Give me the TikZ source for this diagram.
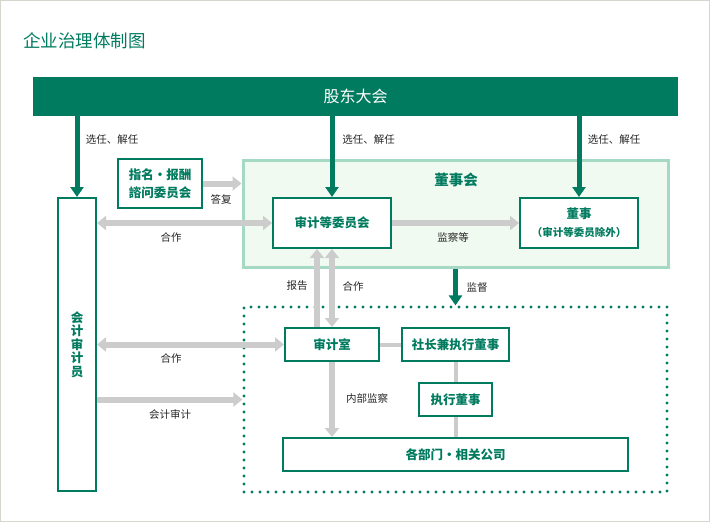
\documentclass[tikz,border=0pt]{standalone}
\usepackage{fontspec}
\setmainfont{Noto Sans CJK SC}
\usetikzlibrary{arrows.meta}
\definecolor{corpgreen}{HTML}{007B5F}
\definecolor{boardfill}{HTML}{F1FAF1}
\definecolor{boardline}{HTML}{A6D9C4}
\definecolor{arrowgray}{HTML}{CCCCCC}
\definecolor{framegray}{HTML}{D6D6CE}
\begin{document}
\begin{tikzpicture}[x=1pt,y=-1pt,
		box/.style={draw=corpgreen, line width=2pt, fill=white, text=corpgreen, inner sep=0pt, align=center, font=\bfseries\fontsize{12.5}{18}\selectfont},
		note/.style={text=black!85, font=\fontsize{10.5}{12}\selectfont},
		green arrow/.style={corpgreen, line width=5pt, -{Triangle[width=13pt,length=10pt]}},
		gray arrow/.style={arrowgray, line width=6pt, -{Triangle[width=14pt,length=9pt]}},
		gray both/.style={arrowgray, line width=6pt, {Triangle[width=14pt,length=9pt]}-{Triangle[width=14pt,length=9pt]}},
		gray link/.style={arrowgray, line width=4pt}]
		\useasboundingbox (0,0) rectangle (710,522);
		\draw[framegray, line width=1pt] (0.5,0.5) rectangle (709.5,521.5);
		\node[anchor=west, inner sep=0pt, text=corpgreen, font=\fontsize{17.5}{19}\selectfont] (title) at (23,40.5) {企业治理体制图};
		% shareholders and board
		\node[fill=corpgreen, text=white, inner sep=0pt, minimum width=645pt, minimum height=39pt, font=\fontsize{16}{18}\selectfont] (meeting) at (355.5,96.5) {股东大会};
		\node[draw=boardline, line width=3pt, fill=boardfill, minimum width=425pt, minimum height=107pt] (board) at (455.5,213.5) {};
		\node[text=corpgreen, font=\bfseries\fontsize{14.5}{16}\selectfont] (boardtitle) at (456,180) {董事会};
		\node[box, minimum width=38pt, minimum height=293pt, font=\bfseries\fontsize{12.5}{13.5}\selectfont] (auditor) at (77,344.5) {会\\计\\审\\计\\员};
		\node[box, minimum width=84pt, minimum height=49pt] (nom) at (160,183.5) {指名·报酬\\諮问委员会};
		\node[box, minimum width=118pt, minimum height=50pt] (acc) at (332,223) {审计等委员会};
		\node[box, minimum width=118pt, minimum height=50pt] (dir) at (579,223) {董事\\{\fontsize{10.5}{12}\selectfont （审计等委员除外）}};
		% execution side
		\node[draw=corpgreen, line width=3.2pt, dash pattern=on 0pt off 8pt, line cap=round, minimum width=423pt, minimum height=185pt] (exec) at (455.5,399.5) {};
		\node[box, minimum width=94pt, minimum height=33pt] (office) at (332,344.5) {审计室};
		\node[box, minimum width=107pt, minimum height=33pt] (pres) at (455.5,344.5) {社长兼执行董事};
		\node[box, minimum width=73pt, minimum height=33pt] (exdir) at (455.5,399.5) {执行董事};
		\node[box, minimum width=345pt, minimum height=33pt] (dept) at (455.5,454.5) {各部门・相关公司};
		% green arrows
		\draw[green arrow] (meeting.south -| auditor.north) -- (auditor.north);
		\draw[green arrow] (meeting.south -| acc.north) -- (acc.north);
		\draw[green arrow] (meeting.south -| dir.north) -- (dir.north);
		\draw[green arrow] (board.south -| exec.north) -- (exec.north);
		\node[note] (elect1) at (112,140) {选任、解任};
		\node[note] (elect2) at (368.5,140) {选任、解任};
		\node[note] (elect3) at (614,140) {选任、解任};
		\node[note] (supervise) at (477,287) {监督};
		% gray arrows
		\draw[gray arrow] (nom.east) -- (nom.east -| board.west);
		\draw[gray both] (auditor.east |- acc.west) -- (acc.west);
		\draw[gray arrow] (acc.east) -- (dir.west);
		\draw[gray arrow] ([xshift=-15pt]office.north) -- ([xshift=-15pt]acc.south);
		\draw[gray both] (office.north) -- (acc.south);
		\draw[gray both] (auditor.east |- office.west) -- (office.west);
		\draw[gray arrow] (auditor.east |- exec.west) -- (exec.west);
		\draw[gray arrow] (office.south) -- (office.south |- dept.north);
		\draw[gray link] (office.east) -- (pres.west);
		\draw[gray link] (pres.south) -- (exdir.north);
		\draw[gray link] (exdir.south) -- (dept.north);
		\node[note] (reply) at (221,199) {答复};
		\node[note] (coop1) at (171,237) {合作};
		\node[note] (monitor) at (453,237) {监察等};
		\node[note] (report) at (297,286) {报告};
		\node[note] (coop2) at (353,286) {合作};
		\node[note] (coop3) at (171,358) {合作};
		\node[note] (audit) at (170,414) {会计审计};
		\node[note] (internal) at (367,398) {内部监察};
	\end{tikzpicture}
\end{document}
